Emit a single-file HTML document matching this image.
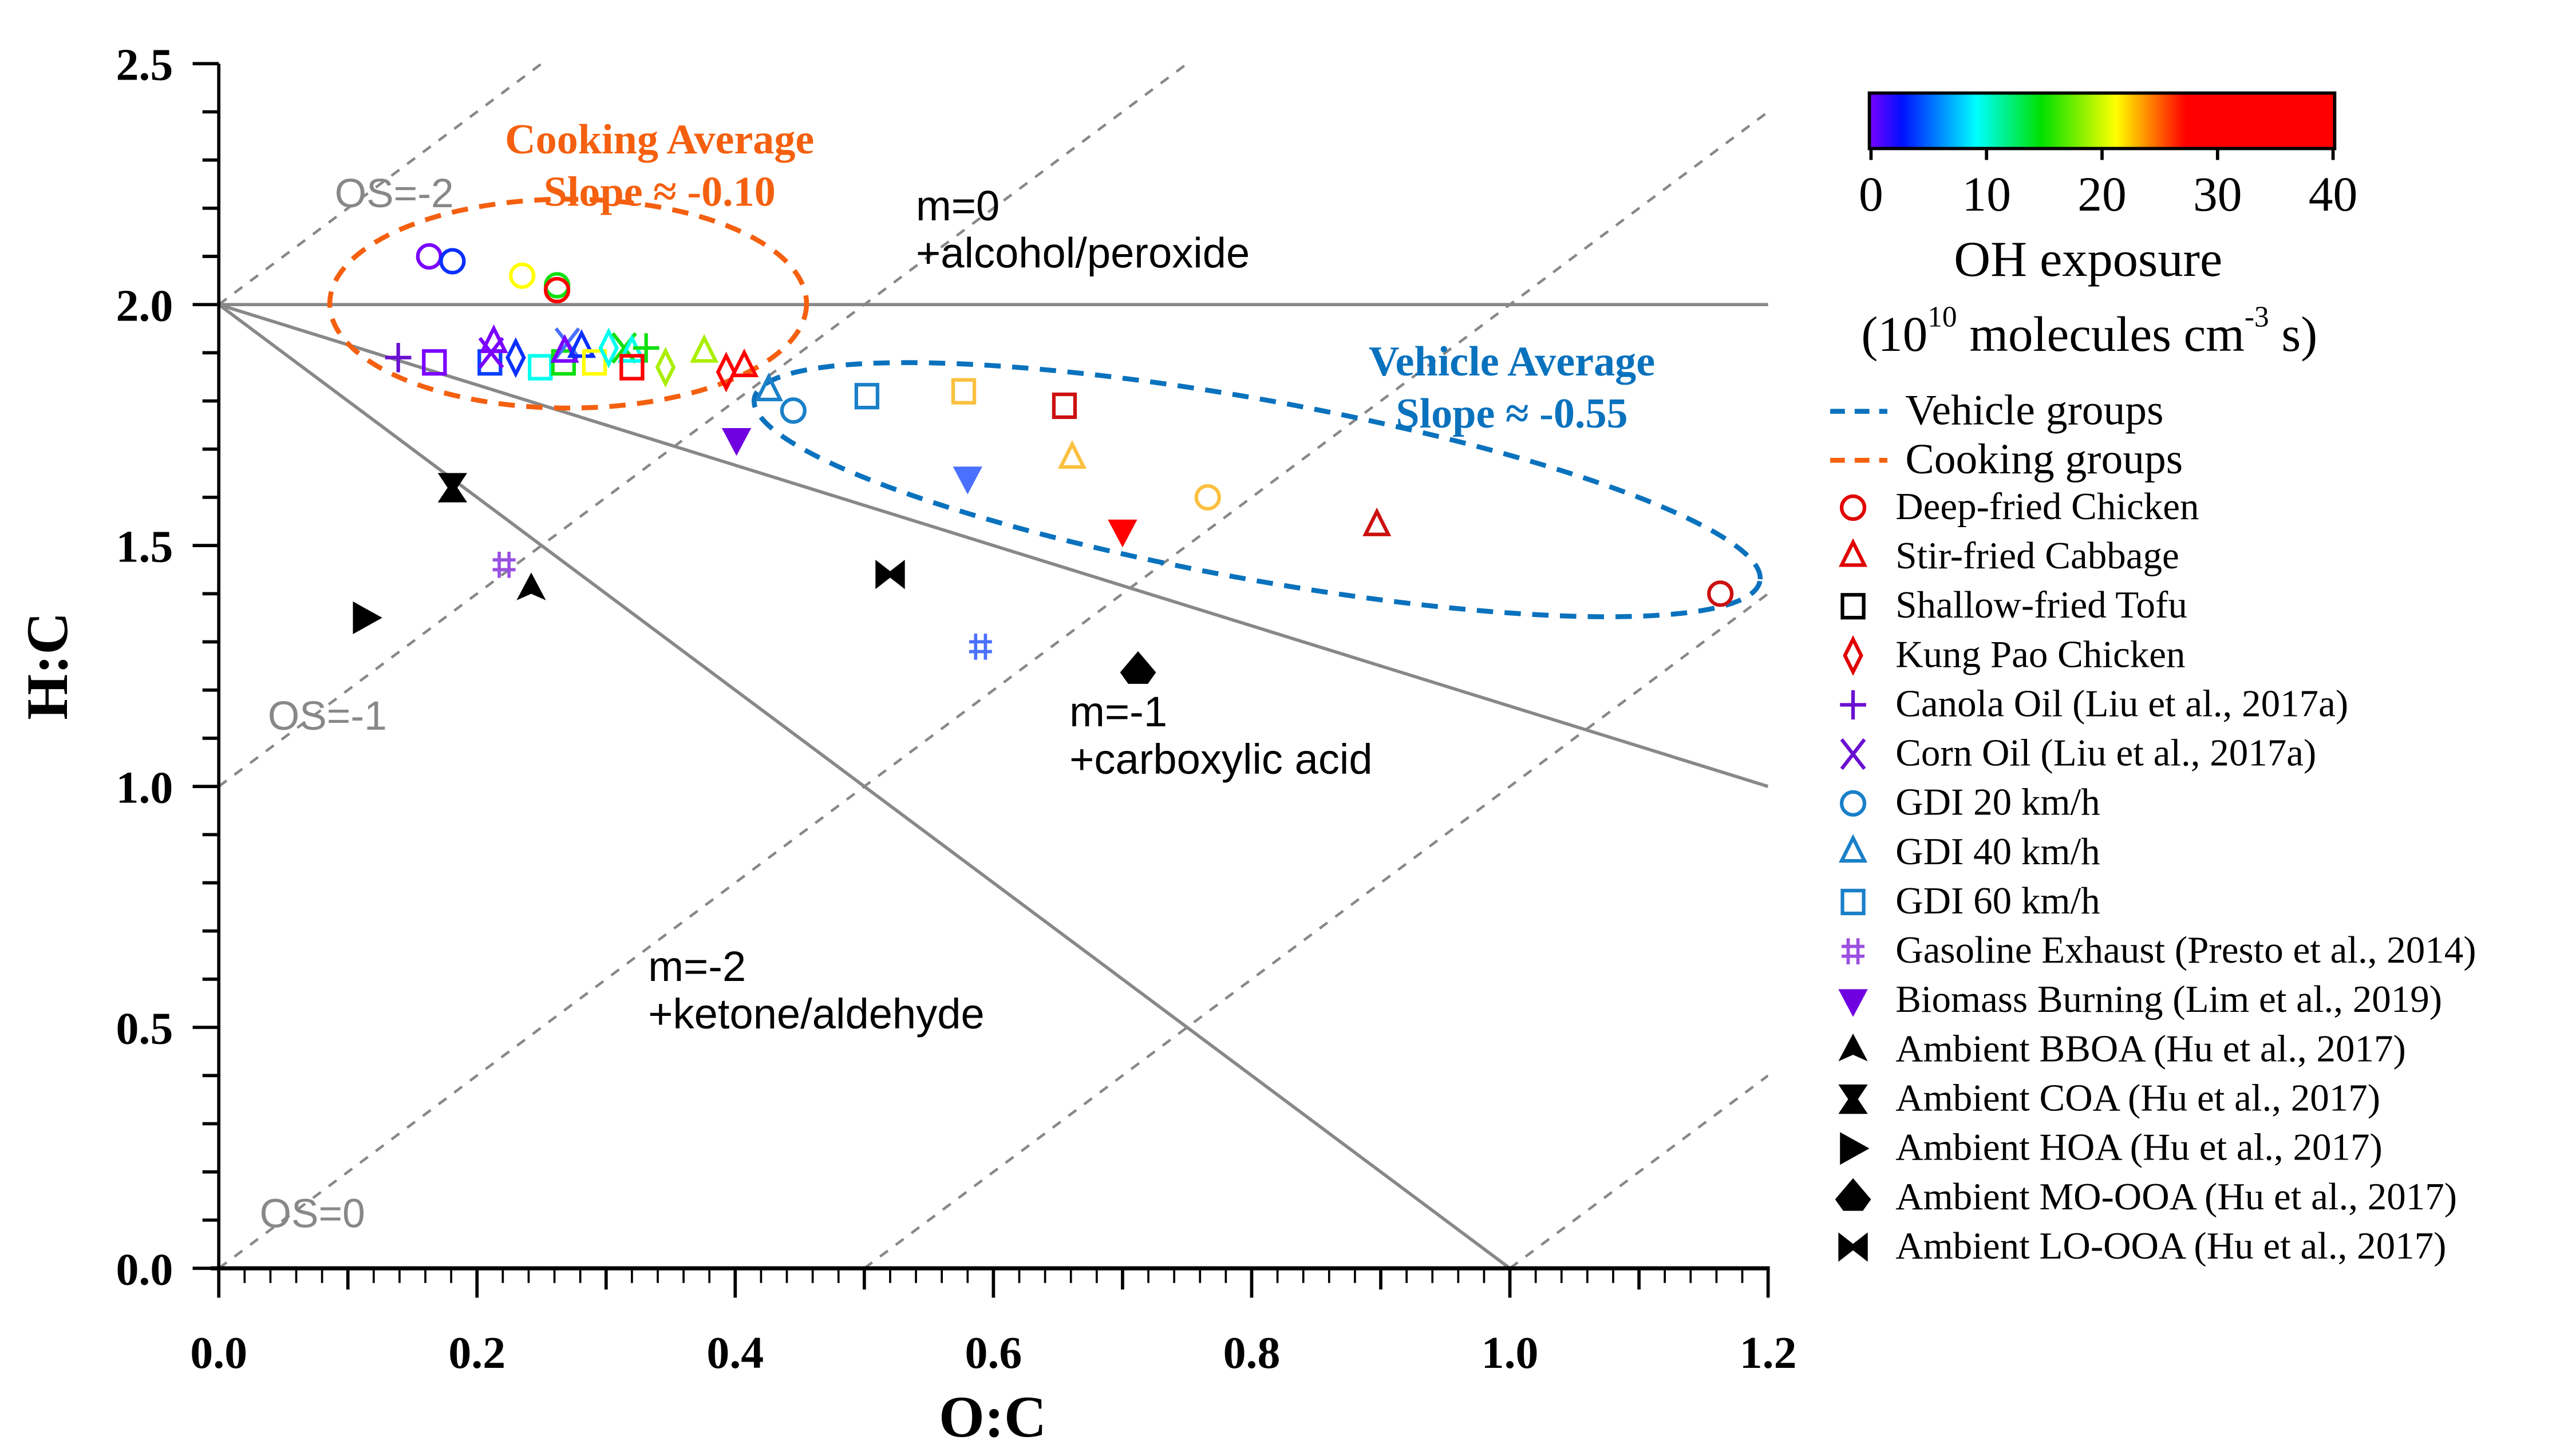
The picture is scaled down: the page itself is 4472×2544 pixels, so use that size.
<!DOCTYPE html>
<html><head><meta charset="utf-8"><style>
html,body{margin:0;padding:0;background:#fff;}
svg{display:block;}
.serif{font-family:"Liberation Serif",serif;}
.sans{font-family:"Liberation Sans",sans-serif;}
</style></head><body>
<svg id="chart" width="4472" height="2544" viewBox="0 0 1568 892" preserveAspectRatio="none" xmlns="http://www.w3.org/2000/svg">
<defs>
<linearGradient id="rainbow" x1="0" x2="1" y1="0" y2="0">
<stop offset="0" stop-color="#7a00ff"/><stop offset="0.07" stop-color="#0010ff"/><stop offset="0.23" stop-color="#00ffff"/><stop offset="0.37" stop-color="#00e000"/><stop offset="0.53" stop-color="#ffff00"/><stop offset="0.66" stop-color="#ff2000"/><stop offset="0.68" stop-color="#ff0000"/><stop offset="1" stop-color="#ff0000"/>
</linearGradient>
<clipPath id="plotclip"><rect x="134" y="39" width="949" height="738"/></clipPath>
</defs>
<g id="refLines" clip-path="url(#plotclip)"></g>
<g id="ellipses">
<ellipse cx="348" cy="186" rx="146" ry="64" fill="none" stroke="#f4600f" stroke-width="3" stroke-dasharray="10,7"/>
<ellipse cx="770" cy="300" rx="313" ry="55" transform="rotate(10.3 770 300)" fill="none" stroke="#0a72bd" stroke-width="3" stroke-dasharray="10,7"/>
</g>
<g id="axes"></g>
<g id="marks"></g>
<g>
<text class="sans" x="205" y="127" font-size="25" fill="#888">OS=-2</text>
<text class="sans" x="164" y="447" font-size="25" fill="#888">OS=-1</text>
<text class="sans" x="159" y="752" font-size="25" fill="#888">OS=0</text>
<text class="sans" x="561" y="135" font-size="26">m=0</text>
<text class="sans" x="561" y="164" font-size="26">+alcohol/peroxide</text>
<text class="sans" x="655" y="445" font-size="26">m=-1</text>
<text class="sans" x="655" y="474" font-size="26">+carboxylic acid</text>
<text class="sans" x="397" y="601" font-size="26">m=-2</text>
<text class="sans" x="397" y="630" font-size="26">+ketone/aldehyde</text>
<text class="serif" x="404" y="94" font-size="26" font-weight="bold" fill="#f4600f" text-anchor="middle">Cooking Average</text>
<text class="serif" x="404" y="126" font-size="26" font-weight="bold" fill="#f4600f" text-anchor="middle">Slope ≈ -0.10</text>
<text class="serif" x="926" y="230" font-size="26" font-weight="bold" fill="#0a72bd" text-anchor="middle">Vehicle Average</text>
<text class="serif" x="926" y="262" font-size="26" font-weight="bold" fill="#0a72bd" text-anchor="middle">Slope ≈ -0.55</text>
</g>
<g>
<rect x="1145" y="57" width="285" height="34" fill="url(#rainbow)" stroke="#000" stroke-width="2"/>
<g id="cbticks"></g>
<text class="serif" x="1279" y="169" font-size="31" text-anchor="middle">OH  exposure</text>
<text class="serif" x="1140" y="215" font-size="30.5">(10<tspan dy="-15" font-size="18">10</tspan><tspan dy="15"> molecules cm</tspan><tspan dy="-15" font-size="18">-3</tspan><tspan dy="15"> s)</tspan></text>
</g>
<g id="legend"></g>
</svg>
<script>
// ---- data ----
var ocVals=[0.163,0.181,0.235,0.262,0.262,0.139,0.167,0.210,0.211,0.213,0.230,0.249,0.267,0.270,0.268,0.281,0.291,0.302,0.314,0.320,0.331,0.320,0.346,0.376,0.393,0.407,0.426,0.445,0.502,0.577,0.655,0.661,0.580,0.700,0.766,0.897,1.163,0.401,0.221,0.590,0.242,0.181,0.114,0.712,0.520];
var hcVals=[2.10,2.09,2.06,2.04,2.03,1.89,1.88,1.88,1.90,1.92,1.89,1.87,1.88,1.92,1.90,1.91,1.88,1.91,1.91,1.90,1.91,1.87,1.87,1.90,1.86,1.87,1.82,1.78,1.81,1.82,1.79,1.68,1.64,1.53,1.60,1.54,1.40,1.72,1.46,1.29,1.41,1.62,1.35,1.24,1.44];
var shapes=["circle","circle","circle","circle","circle","plus","square","square","x","tri","diamond","square","square","x","tri","tri","square","diamond","x","tri","plus","square","diamond","tri","diamond","tri","tri","circle","square","square","square","tri","dtri","dtri","circle","tri","circle","dtri","hash","hash","bboa","coa","hoa","mooa","looa"];
var colors=["#7a00ff","#0a30ff","#ffff00","#10e010","#ff0000","#6a10d0","#7a00ff","#0a40ff","#7a00ff","#7a00ff","#0a30ff","#00ffee","#10e010","#4a70ff","#7a00ff","#0a30ff","#ffff00","#00ffee","#10e010","#00ffee","#10e010","#ff0000","#aaee00","#aaee00","#ff0000","#ff0000","#1a80c8","#1a80c8","#1a80c8","#fbc040","#cc1010","#fbc040","#4a70ff","#ff0000","#fbc040","#cc1010","#cc1010","#7000e0","#9a50e0","#4a70ff","#000","#000","#000","#000","#000"];
var xTicks=[0,0.2,0.4,0.6,0.8,1.0,1.2];
var xTickLabels=["0.0","0.2","0.4","0.6","0.8","1.0","1.2"];
var yTicks=[0,0.5,1.0,1.5,2.0,2.5];
var yTickLabels=["0.0","0.5","1.0","1.5","2.0","2.5"];
var cbTicks=[0,10,20,30,40];
var legendLabels=["Deep-fried Chicken","Stir-fried Cabbage","Shallow-fried Tofu","Kung Pao Chicken","Canola Oil (Liu et al., 2017a)","Corn Oil (Liu et al., 2017a)","GDI 20 km/h","GDI 40 km/h","GDI 60 km/h","Gasoline Exhaust (Presto et al., 2014)","Biomass Burning (Lim et al., 2019)","Ambient BBOA (Hu et al., 2017)","Ambient COA (Hu et al., 2017)","Ambient HOA (Hu et al., 2017)","Ambient MO-OOA (Hu et al., 2017)","Ambient LO-OOA (Hu et al., 2017)"];
var legendShapes=["circle","tri","square","diamond","plus","x","circle","tri","square","hash","dtri","bboa","coa","hoa","mooa","looa"];
var legendColors=["#e00000","#e00000","#000","#e00000","#6a10d0","#6a10d0","#1a80c8","#1a80c8","#1a80c8","#9a50e0","#7000e0","#000","#000","#000","#000","#000"];

// ---- scales ----
function X(v){return 134+v*790.8;}
function Y(v){return 777-v*295.2;}
var NS="http://www.w3.org/2000/svg";
function el(tag,attrs,parent){var e=document.createElementNS(NS,tag);for(var k in attrs)e.setAttribute(k,attrs[k]);parent.appendChild(e);return e;}

// reference lines
var rl=document.getElementById('refLines');
var osVals=[-2,-1,0,1,2];
osVals.forEach(function(os){
  var x0=Math.max(0,os/2),x1=1.2;
  var l=el('line',{x1:X(x0),y1:Y(2*x0-os),x2:X(x1),y2:Y(2*x1-os),stroke:'#888','stroke-width':1.6,'stroke-dasharray':'6,6'},rl);
  
  
});
var solid=[[0,2,1.2,2],[0,2,1.2,1.0],[0,2,1.0,0]];
solid.forEach(function(s){
  var l=el('line',{x1:X(s[0]),y1:Y(s[1]),x2:X(s[2]),y2:Y(s[3]),stroke:'#888','stroke-width':2},rl);
  
  
});

// axes
var ax=document.getElementById('axes');
var a1=el('line',{x1:134,y1:39,x2:134,y2:779,stroke:'#000','stroke-width':2},ax);


var a2=el('line',{x1:129,y1:777,x2:1084,y2:777,stroke:'#000','stroke-width':2.5},ax);


for(var i=0;i<=60;i++){var v=i*0.02;var len=(i%10==0)?18:((i%5==0)?13:9);el('line',{x1:X(v),y1:777,x2:X(v),y2:777+len,stroke:'#000','stroke-width':(i%5==0)?2:1.3},ax);}
for(var i=0;i<=25;i++){var v=i*0.1;el('line',{x1:134,y1:Y(v),x2:(i%5==0)?118:124,y2:Y(v),stroke:'#000','stroke-width':2},ax);}
xTicks.forEach(function(v,i){var t=el('text',{x:X(v),y:838,'font-size':28,'font-weight':'bold','text-anchor':'middle','class':'serif'},ax);t.textContent=xTickLabels[i];

});
yTicks.forEach(function(v,i){var t=el('text',{x:106,y:Y(v)+10,'font-size':28,'font-weight':'bold','text-anchor':'end','class':'serif'},ax);t.textContent=yTickLabels[i];

});
var xt=el('text',{x:608,y:880,'font-size':36,'font-weight':'bold','text-anchor':'middle','class':'serif'},ax);xt.textContent='O:C';


var yt=el('text',{x:0,y:0,'font-size':36,'font-weight':'bold','text-anchor':'middle','class':'serif',transform:'translate(41,408) rotate(-90)'},ax);yt.textContent='H:C';



// markers
function marker(shape,cx,cy,c,g){
  var sw=2.2;
  switch(shape){
    case 'circle': el('circle',{cx:cx,cy:cy,r:7,fill:'none',stroke:c,'stroke-width':sw},g); break;
    case 'square': el('rect',{x:cx-6.5,y:cy-7,width:13,height:14,fill:'none',stroke:c,'stroke-width':sw},g); break;
    case 'tri': el('polygon',{points:(cx)+','+(cy-9)+' '+(cx-7)+','+(cy+5)+' '+(cx+7)+','+(cy+5),fill:'none',stroke:c,'stroke-width':sw},g); break;
    case 'diamond': el('polygon',{points:cx+','+(cy-10)+' '+(cx+5)+','+cy+' '+cx+','+(cy+10)+' '+(cx-5)+','+cy,fill:'none',stroke:c,'stroke-width':sw},g); break;
    case 'plus': el('path',{d:'M'+(cx-8)+' '+cy+'H'+(cx+8)+'M'+cx+' '+(cy-9)+'V'+(cy+9),stroke:c,'stroke-width':sw,fill:'none'},g); break;
    case 'x': el('path',{d:'M'+(cx-7)+' '+(cy-9)+'L'+(cx+7)+' '+(cy+9)+'M'+(cx+7)+' '+(cy-9)+'L'+(cx-7)+' '+(cy+9),stroke:c,'stroke-width':sw,fill:'none'},g); break;
    case 'hash': el('path',{d:'M'+(cx-3)+' '+(cy-8)+'V'+(cy+8)+'M'+(cx+3)+' '+(cy-8)+'V'+(cy+8)+'M'+(cx-7)+' '+(cy-3)+'H'+(cx+7)+'M'+(cx-7)+' '+(cy+3)+'H'+(cx+7),stroke:c,'stroke-width':2,fill:'none'},g); break;
    case 'dtri': el('polygon',{points:(cx-9)+','+(cy-7)+' '+(cx+9)+','+(cy-7)+' '+cx+','+(cy+10),fill:c},g); break;
    case 'bboa': el('polygon',{points:cx+','+(cy-10)+' '+(cx+9)+','+(cy+7)+' '+cx+','+(cy+3)+' '+(cx-9)+','+(cy+7),fill:c},g); break;
    case 'coa': el('polygon',{points:(cx-9)+','+(cy-9)+' '+(cx+9)+','+(cy-9)+' '+(cx+3)+','+cy+' '+(cx+9)+','+(cy+9)+' '+(cx-9)+','+(cy+9)+' '+(cx-3)+','+cy,fill:c},g); break;
    case 'hoa': el('polygon',{points:(cx-8)+','+(cy-10)+' '+(cx+10)+','+cy+' '+(cx-8)+','+(cy+10),fill:c},g); break;
    case 'mooa': el('polygon',{points:cx+','+(cy-12)+' '+(cx+11)+','+(cy+1)+' '+(cx+6)+','+(cy+8)+' '+(cx-6)+','+(cy+8)+' '+(cx-11)+','+(cy+1),fill:c},g); break;
    case 'looa': el('polygon',{points:(cx-9)+','+(cy-9)+' '+(cx)+','+(cy-2)+' '+(cx+9)+','+(cy-9)+' '+(cx+9)+','+(cy+9)+' '+cx+','+(cy+2)+' '+(cx-9)+','+(cy+9),fill:c},g); break;
  }
}
var mk=document.getElementById('marks');
ocVals.forEach(function(v,i){
  var g=el('g',{},mk);
  
  
  marker(shapes[i],X(v),Y(hcVals[i]),colors[i],g);
});

// colorbar ticks
var cb=document.getElementById('cbticks');
cbTicks.forEach(function(v){
  var x=1146+v/40*283;
  el('line',{x1:x,y1:91,x2:x,y2:98,stroke:'#000','stroke-width':2},cb);
  var t=el('text',{x:x,y:129,'font-size':30,'text-anchor':'middle','class':'serif'},cb);t.textContent=v;
  
  
});

// legend
var lg=document.getElementById('legend');
var l1=el('line',{x1:1121,y1:252,x2:1156,y2:252,stroke:'#0a72bd','stroke-width':3,'stroke-dasharray':'9,6'},lg);


var t1=el('text',{x:1167,y:260,'font-size':26.5,'class':'serif'},lg);t1.textContent='Vehicle groups';


var l2=el('line',{x1:1121,y1:282,x2:1156,y2:282,stroke:'#f4600f','stroke-width':3,'stroke-dasharray':'9,6'},lg);


var t2=el('text',{x:1167,y:290,'font-size':26.5,'class':'serif'},lg);t2.textContent='Cooking groups';


legendLabels.forEach(function(lab,i){
  var y=311+i*30.2;
  var g=el('g',{},lg);
  
  
  marker(legendShapes[i],1135,y,legendColors[i],g);
  var t=el('text',{x:1161,y:y+7,'font-size':23.5,'class':'serif'},g);t.textContent=lab;
});
</script>
</body></html>
